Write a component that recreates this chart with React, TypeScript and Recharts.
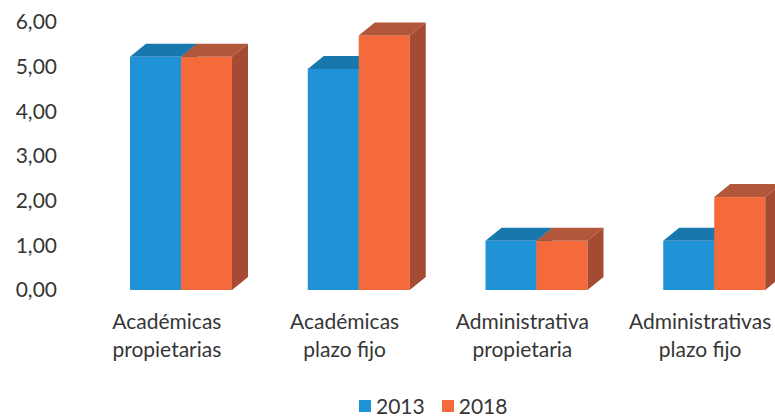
import React from "react";
import { BarChart, Bar, XAxis, YAxis } from "recharts";

const categories = [
  "Académicas\npropietarias",
  "Académicas\nplazo fijo",
  "Administrativa\npropietaria",
  "Administrativas\nplazo fijo",
];
const values2013 = [5.22, 4.95, 1.1, 1.1];
const values2018 = [5.22, 5.7, 1.1, 2.08];
const yTicks = [0, 1, 2, 3, 4, 5, 6];

const data = categories.map((name, i) => ({
  name,
  y2013: values2013[i],
  y2018: values2018[i],
}));

const FONT = "Lato, 'Open Sans', sans-serif";
const TEXT = "#363636";
const DX = 16;
const DY = 13;

const make3D = (front: string, top: string, side: string) => (props: any) => {
  const { x, y, width: w, height: h } = props;
  if (h == null || w == null) return null;
  return (
    <g>
      <rect x={x} y={y} width={w} height={h} fill={front} />
      <polygon
        points={`${x},${y} ${x + DX},${y - DY} ${x + w + DX},${y - DY} ${x + w},${y}`}
        fill={top}
      />
      <polygon
        points={`${x + w},${y} ${x + w + DX},${y - DY} ${x + w + DX},${y + h - DY} ${x + w},${y + h}`}
        fill={side}
      />
    </g>
  );
};

const XTick = (props: any) => {
  const { x, y, payload } = props;
  const lines = String(payload.value).split("\n");
  return (
    <text x={x - 14} y={y} textAnchor="middle" fill={TEXT} fontFamily={FONT} fontSize={21}>
      {lines.map((l, i) => (
        <tspan key={i} x={x - 14} dy={i === 0 ? 31 : 28}>
          {l}
        </tspan>
      ))}
    </text>
  );
};

export default function App() {
  return (
    <div
      style={{
        position: "absolute",
        left: 0,
        top: 0,
        width: 775,
        height: 420,
        overflow: "hidden",
        background: "#fff",
      }}
    >
      <BarChart
        width={803}
        height={420}
        data={data}
        margin={{ top: 22, right: 0, bottom: 0, left: 0 }}
        barCategoryGap={37}
        barGap={0}
      >
        <XAxis
          dataKey="name"
          height={130}
          axisLine={false}
          tickLine={false}
          interval={0}
          tick={<XTick />}
        />
        <YAxis
          width={92}
          domain={[0, 6]}
          ticks={yTicks}
          axisLine={false}
          tickLine={false}
          tickMargin={29}
          tickFormatter={(v: number) => v.toFixed(2).replace(".", ",")}
          tick={{ fill: TEXT, fontFamily: FONT, fontSize: 21 }}
        />
        <Bar
          dataKey="y2013"
          barSize={51}
          isAnimationActive={false}
          shape={make3D("#1f93d6", "#1877ad", "#17679a")}
        />
        <Bar
          dataKey="y2018"
          barSize={51}
          isAnimationActive={false}
          shape={make3D("#f46a3b", "#b3573b", "#a54a33")}
        />
      </BarChart>
      <div
        style={{
          position: "absolute",
          top: 394,
          left: 359,
          display: "flex",
          alignItems: "center",
          fontFamily: FONT,
          fontSize: 21,
          lineHeight: "24px",
          color: TEXT,
        }}
      >
        <span style={{ width: 12, height: 12, background: "#1f93d6", marginRight: 5 }} />
        <span style={{ marginRight: 17 }}>2013</span>
        <span style={{ width: 12, height: 12, background: "#f46a3b", marginRight: 5 }} />
        <span>2018</span>
      </div>
    </div>
  );
}
